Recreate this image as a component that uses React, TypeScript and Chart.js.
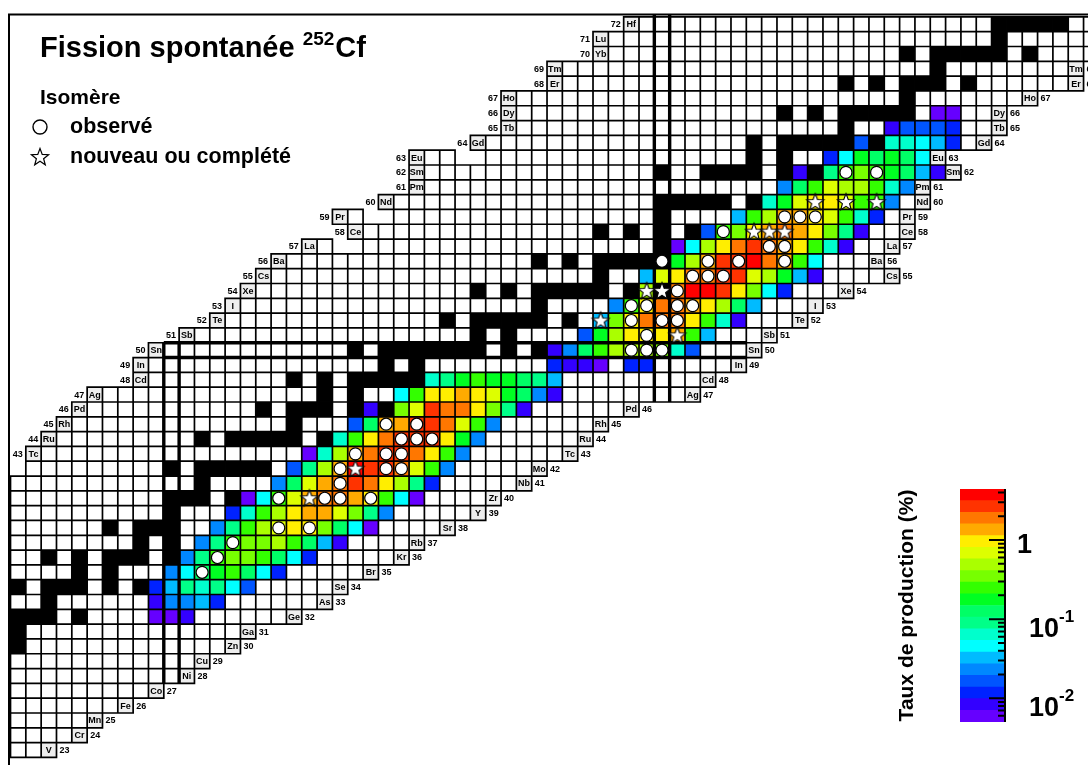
import React, { useEffect, useRef } from 'react';
import { Chart, registerables } from 'chart.js';

Chart.register(...registerables);

const FONT = '"Liberation Sans", Arial, Helvetica, sans-serif';

// ---------------- data ----------------
// visible window of the nuclide chart: neutron number N across, proton number Z up
const N_WINDOW = [38.815, 109.79];
const Z_WINDOW = [21.99, 73.64];

const Z_FIRST = 23;
const SYMBOLS = ['V', 'Cr', 'Mn', 'Fe', 'Co', 'Ni', 'Cu', 'Zn', 'Ga', 'Ge', 'As', 'Se', 'Br', 'Kr', 'Rb', 'Sr', 'Y', 'Zr', 'Nb', 'Mo',
  'Tc', 'Ru', 'Rh', 'Pd', 'Ag', 'Cd', 'In', 'Sn', 'Sb', 'Te', 'I', 'Xe', 'Cs', 'Ba', 'La', 'Ce', 'Pr', 'Nd', 'Pm', 'Sm',
  'Eu', 'Gd', 'Tb', 'Dy', 'Ho', 'Er', 'Tm', 'Yb', 'Lu', 'Hf'];
// lightest and heaviest N drawn in each row (Z = 23 ... 72)
const N_LIGHTEST = [40, 40, 40, 40, 40, 40, 40, 40, 40, 40, 40, 40, 40, 40, 40, 40, 40, 40, 40, 41,
  42, 43, 44, 45, 46, 49, 49, 50, 52, 54, 55, 56, 57, 58, 60, 63, 62, 65, 67, 67,
  67, 71, 73, 73, 73, 76, 76, 79, 79, 81];
const N_HEAVIEST = [41, 43, 44, 46, 48, 50, 51, 53, 54, 57, 59, 60, 62, 64, 65, 67, 69, 70, 72, 73,
  75, 76, 77, 79, 83, 84, 86, 87, 88, 90, 91, 93, 96, 95, 96, 97, 97, 98, 98, 100,
  99, 102, 103, 103, 105, 108, 108, 110, 110, 110];
const LEFT_LABEL_FROM_Z = 43;
const RIGHT_LABEL_TO_Z = 69;
// unknown nuclides inside a row [Z, N]
const GAPS: [number, number][] = [[57, 61], [57, 62], [59, 63], [59, 64], [63, 69], [63, 70]];

// stable nuclides [Z, N list]
const STABLE: [number, number[]][] = [
  [30, [40]], [31, [40]], [32, [40, 41, 42, 44]], [33, [42]], [34, [40, 42, 43, 44, 46, 48]], [35, [44, 46]],
  [36, [42, 44, 46, 47, 48, 50]], [37, [48, 50]], [38, [46, 48, 49, 50]], [39, [50]], [40, [50, 51, 52, 54, 56]],
  [41, [52]], [42, [50, 52, 53, 54, 55, 56, 58]], [44, [52, 54, 55, 56, 57, 58, 60]], [45, [58]],
  [46, [56, 58, 59, 60, 62, 64]], [47, [60, 62]], [48, [58, 60, 62, 63, 64, 65, 66, 68]], [49, [64, 66]],
  [50, [62, 64, 65, 66, 67, 68, 69, 70, 72, 74]], [51, [70, 72]], [52, [68, 70, 71, 72, 73, 74, 76, 78]], [53, [74]],
  [54, [70, 72, 74, 75, 76, 77, 78, 80, 82]], [55, [78]], [56, [74, 76, 78, 79, 80, 81, 82]], [57, [82]],
  [58, [78, 80, 82, 84]], [59, [82]], [60, [82, 83, 84, 85, 86, 88, 90]], [62, [82, 85, 86, 87, 88, 90, 92]],
  [63, [88, 90]], [64, [88, 90, 91, 92, 93, 94, 96]], [65, [94]], [66, [90, 92, 94, 95, 96, 97, 98]], [67, [98]],
  [68, [94, 96, 98, 99, 100, 102]], [69, [100]], [70, [98, 100, 101, 102, 103, 104, 106]], [71, [104]],
  [72, [104, 105, 106, 107, 108]],
];

// independent production yields (%) : [Z, first N, yields ...]
const YIELD_ROWS: [number, number, (number | null)[]][] = [
  [32, 49, [0.006, 0.006, 0.0083]],
  [33, 49, [0.0083, 0.023, 0.023, 0.032, 0.012]],
  [34, 49, [0.012, 0.032, 0.089, 0.063, 0.089, 0.045, 0.016]],
  [35, 50, [0.023, 0.045, 0.125, 0.175, 0.25, 0.125, 0.045, 0.012]],
  [36, 51, [0.023, 0.089, 0.25, 0.35, 0.35, 0.25, 0.125, 0.045, 0.012]],
  [37, 52, [0.023, 0.089, 0.25, 0.35, 0.35, 0.48, 0.25, 0.125, 0.032, 0.0083]],
  [38, 53, [0.023, 0.089, 0.25, 0.48, 0.68, 0.95, 0.95, 0.35, 0.125, 0.045, 0.006]],
  [39, 54, [0.012, 0.063, 0.25, 0.48, 0.95, 1.33, 1.33, 0.68, 0.35, 0.089, 0.023]],
  [40, 55, [0.006, 0.045, 0.25, 0.68, 1.33, 1.87, 1.87, 1.33, 0.95, 0.25, 0.045, 0.006]],
  [41, 57, [0.023, 0.125, 0.68, 1.33, 1.87, 2.6, 1.87, 0.95, 0.48, 0.089, 0.012]],
  [42, 58, [0.016, 0.089, 0.48, 1.33, 3.7, 2.6, 2.6, 1.87, 0.68, 0.25, 0.023]],
  [43, 59, [0.006, 0.063, 0.48, 1.33, 1.87, 2.6, 2.6, 1.87, 0.95, 0.25, 0.023]],
  [44, 61, [0.063, 0.25, 0.95, 1.87, 2.6, 2.6, 2.6, 0.95, 0.175, 0.023]],
  [45, 62, [0.016, 0.125, 1.33, 1.33, 2.6, 2.6, 1.87, 0.68, 0.25, 0.023]],
  [46, 63, [0.0083, null, 0.35, 0.68, 2.6, 1.87, 1.87, 0.95, 0.35, 0.089, 0.0083]],
  [47, 65, [0.045, 0.25, 0.95, 0.95, 1.33, 0.95, 0.68, 0.175, 0.125, 0.023, 0.0083]],
  [48, 67, [0.063, 0.089, 0.175, 0.25, 0.175, 0.175, 0.125, 0.089, 0.032]],
  [49, 75, [0.012, 0.0083, 0.0083, 0.006, null, 0.012, 0.012]],
  [50, 75, [0.0083, 0.023, 0.125, 0.25, 0.48, 0.48, 0.48, 0.35, 0.063, 0.016]],
  [51, 77, [0.016, 0.175, 0.48, 0.95, 0.95, 0.95, 1.33, 0.25, 0.032]],
  [52, 78, [0.032, 0.35, 0.95, 1.87, 1.87, 1.87, 0.95, 0.25, 0.063, 0.0083]],
  [53, 79, [0.023, 0.25, 0.95, 1.87, 1.87, 1.33, 0.95, 0.48, 0.125, 0.032]],
  [54, 81, [0.48, null, 1.87, 3.7, 3.7, 2.6, 0.95, 0.35, 0.045, 0.012]],
  [55, 81, [0.032, 0.68, 0.95, 1.87, 1.87, 2.6, 2.6, 0.68, 0.48, 0.175, 0.032, 0.0083]],
  [56, 83, [0.175, 0.48, 1.33, 2.6, 2.6, 3.7, 1.87, 1.33, 0.25, 0.045]],
  [57, 83, [0.006, 0.045, 0.48, 0.95, 1.87, 2.6, 1.87, 1.33, 0.95, 0.25, 0.063, 0.0083]],
  [58, 85, [0.016, 0.25, 0.35, 0.95, 1.33, 1.87, 1.33, 0.95, 0.35, 0.089, 0.0083]],
  [59, 87, [0.032, 0.25, 0.48, 1.33, 1.33, 0.95, 0.68, 0.25, 0.063, 0.012]],
  [60, 89, [0.063, 0.175, 0.68, 0.95, 0.95, 0.68, 0.25, 0.25, 0.023]],
  [61, 90, [0.023, 0.125, 0.25, 0.68, 0.48, 0.48, 0.25, 0.063, 0.023]],
  [62, 91, [0.0083, null, 0.089, 0.25, 0.35, 0.25, 0.175, 0.125, 0.032, 0.0083]],
  [63, 93, [0.012, 0.045, 0.175, 0.125, 0.175, 0.125, 0.045]],
  [64, 95, [0.016, null, 0.063, 0.063, 0.045, 0.032, 0.012]],
  [65, 97, [0.0083, 0.016, 0.016, 0.016, 0.012]],
  [66, 100, [0.006, 0.006]],
];

// isomers [Z, N]
const ISOMER_SEEN: [number, number][] = [
  [35, 52], [36, 53], [37, 54], [38, 57], [38, 59], [40, 57], [40, 60], [40, 61], [40, 63], [41, 61],
  [42, 61], [42, 64], [42, 65], [43, 62], [43, 64], [43, 65], [44, 65], [44, 66], [44, 67], [45, 64], [45, 66],
  [50, 80], [50, 81], [50, 82], [51, 81], [52, 80], [52, 82], [52, 83], [53, 80], [53, 81], [53, 83], [53, 84],
  [54, 83], [55, 84], [55, 85], [55, 86], [56, 82], [56, 85], [56, 87], [56, 90], [57, 89], [57, 90], [58, 86],
  [59, 90], [59, 91], [59, 92], [62, 94], [62, 96],
];
const ISOMER_NEW: [number, number][] = [
  [40, 59], [42, 62], [51, 83], [52, 78], [54, 81], [54, 82], [58, 88], [58, 89], [58, 90], [60, 92], [60, 94], [60, 96],
];

// magic numbers: [N, lowest Z, highest Z] and [Z, lowest N, highest N]
const MAGIC_COLUMNS: [number, number, number][] = [[50, 28, 50], [82, 47, 80]];
const MAGIC_ROWS: [number, number, number][] = [[50, 50, 87]];

// colour scale of the yields
const PALETTE = ['#6600ff', '#3300ff', '#0022ff', '#0055ff', '#0088ff', '#00bbff', '#00ffff', '#00ffcc', '#00ff88', '#00ff66',
  '#00ff22', '#33ff00', '#77ff00', '#aaff00', '#ddff00', '#ffee00', '#ffaa00', '#ff7700', '#ff3300', '#ff0000'];
const YIELD_SCALE = [0.005012, 4.4157];
const COLOR_TICK_LABELS: [number, string, string][] = [[1, '1', ''], [0.1, '10', '-1'], [0.01, '10', '-2']];

// ---------------- helpers ----------------
const LOG_LO = Math.log10(YIELD_SCALE[0]);
const LOG_HI = Math.log10(YIELD_SCALE[1]);
function yieldColor(v: number) {
  let k = Math.floor(((Math.log10(v) - LOG_LO) / (LOG_HI - LOG_LO)) * PALETTE.length);
  if (k < 0) k = 0;
  if (k > PALETTE.length - 1) k = PALETTE.length - 1;
  return PALETTE[k];
}
const key = (z: number, n: number) => z * 1000 + n;

function starPath(ctx: CanvasRenderingContext2D, cx: number, cy: number, R: number, r: number) {
  ctx.beginPath();
  for (let i = 0; i < 10; i++) {
    const a = -Math.PI / 2 + (i * Math.PI) / 5;
    const rad = i % 2 === 0 ? R : r;
    const px = cx + rad * Math.cos(a);
    const py = cy + rad * Math.sin(a);
    if (i === 0) ctx.moveTo(px, py); else ctx.lineTo(px, py);
  }
  ctx.closePath();
}

function makeStar() {
  const c = document.createElement('canvas');
  c.width = 22; c.height = 22;
  const g = c.getContext('2d')!;
  starPath(g, 11, 11.5, 9, 3.8);
  g.fillStyle = '#ffffff';
  g.fill();
  g.lineWidth = 1.1;
  g.strokeStyle = '#000000';
  g.stroke();
  return c;
}

const nuclideCells = {
  id: 'nuclideCells',
  beforeDatasetsDraw(chart: any) {
    const { ctx } = chart;
    const sx = chart.scales.x;
    const sy = chart.scales.y;
    const box = (n: number, z: number): [number, number, number, number] => {
      const x0 = sx.getPixelForValue(n - 0.5);
      const x1 = sx.getPixelForValue(n + 0.5);
      const y0 = sy.getPixelForValue(z + 0.5);
      const y1 = sy.getPixelForValue(z - 0.5);
      return [x0, y0, x1 - x0, y1 - y0];
    };
    const gaps = new Set(GAPS.map(([z, n]) => key(z, n)));
    const fills = new Map<number, string>();
    SYMBOLS.forEach((_, i) => {
      const z = Z_FIRST + i;
      for (let n = N_LIGHTEST[i]; n <= N_HEAVIEST[i]; n++) {
        if (!gaps.has(key(z, n))) fills.set(key(z, n), '#ffffff');
      }
    });
    STABLE.forEach(([z, ns]) => ns.forEach((n) => fills.set(key(z, n), '#000000')));
    YIELD_ROWS.forEach(([z, n0, vals]) => vals.forEach((v, j) => {
      if (v != null) fills.set(key(z, n0 + j), yieldColor(v));
    }));
    const labels: { z: number; n: number; sym: string; side: string }[] = [];
    SYMBOLS.forEach((sym, i) => {
      const z = Z_FIRST + i;
      if (z >= LEFT_LABEL_FROM_Z) labels.push({ z, n: N_LIGHTEST[i] - 1, sym, side: 'left' });
      if (z <= RIGHT_LABEL_TO_Z) labels.push({ z, n: N_HEAVIEST[i] + 1, sym, side: 'right' });
    });

    ctx.save();
    ctx.beginPath();
    ctx.rect(9, 14, 2000, 2000);
    ctx.clip();

    fills.forEach((color, k) => {
      const z = Math.floor(k / 1000);
      const n = k % 1000;
      ctx.fillStyle = color;
      ctx.fillRect(...box(n, z));
    });
    labels.forEach((l) => {
      ctx.fillStyle = '#eeeeee';
      ctx.fillRect(...box(l.n, l.z));
    });
    ctx.strokeStyle = '#000000';
    ctx.lineWidth = 1.7;
    ctx.beginPath();
    fills.forEach((_, k) => {
      const z = Math.floor(k / 1000);
      const n = k % 1000;
      ctx.rect(...box(n, z));
    });
    labels.forEach((l) => ctx.rect(...box(l.n, l.z)));
    ctx.stroke();

    // magic numbers
    ctx.lineWidth = 3.4;
    ctx.beginPath();
    MAGIC_COLUMNS.forEach(([n, zLo, zHi]) => {
      const yTop = zHi >= 72 ? 0 : sy.getPixelForValue(zHi + 0.5);
      const yBot = sy.getPixelForValue(zLo - 0.5);
      [n - 0.5, n + 0.5].forEach((e) => {
        const x = sx.getPixelForValue(e);
        ctx.moveTo(x, yBot);
        ctx.lineTo(x, yTop);
      });
    });
    MAGIC_ROWS.forEach(([z, nLo, nHi]) => {
      const x0 = sx.getPixelForValue(nLo - 0.5);
      const x1 = sx.getPixelForValue(nHi + 0.5);
      [z - 0.5, z + 0.5].forEach((e) => {
        const y = sy.getPixelForValue(e);
        ctx.moveTo(x0, y);
        ctx.lineTo(x1, y);
      });
    });
    ctx.stroke();

    // element labels
    ctx.fillStyle = '#000000';
    ctx.font = `bold 9px ${FONT}`;
    ctx.textBaseline = 'middle';
    labels.forEach((l) => {
      const [x, y, w, h] = box(l.n, l.z);
      ctx.textAlign = 'center';
      ctx.fillText(l.sym, x + w / 2, y + h / 2 + 0.5);
      if (l.side === 'left') {
        ctx.textAlign = 'right';
        ctx.fillText(String(l.z), x - 3, y + h / 2 + 0.5);
      } else {
        ctx.textAlign = 'left';
        ctx.fillText(String(l.z), x + w + 3, y + h / 2 + 0.5);
      }
    });
    ctx.restore();
  },
};

const frameAndText = {
  id: 'frameAndText',
  afterDraw(chart: any) {
    const { ctx } = chart;
    ctx.save();
    ctx.strokeStyle = '#000000';
    ctx.lineWidth = 2;
    ctx.strokeRect(9, 14.5, 1200, 1000);

    ctx.fillStyle = '#000000';
    ctx.textBaseline = 'alphabetic';
    ctx.textAlign = 'left';
    ctx.font = `bold 29px ${FONT}`;
    const t1 = 'Fission spontanée ';
    ctx.fillText(t1, 40, 57);
    let x = 40 + ctx.measureText(t1).width;
    ctx.font = `bold 19px ${FONT}`;
    ctx.fillText('252', x, 45);
    x += ctx.measureText('252').width + 1;
    ctx.font = `bold 29px ${FONT}`;
    ctx.fillText('Cf', x, 57);

    ctx.font = `bold 21px ${FONT}`;
    ctx.fillText('Isomère', 40, 104);
    ctx.font = `bold 21.5px ${FONT}`;
    ctx.fillText('observé', 70, 133);
    ctx.fillText('nouveau ou complété', 70, 163);

    ctx.lineWidth = 1.4;
    ctx.beginPath();
    ctx.arc(40, 127, 7, 0, Math.PI * 2);
    ctx.stroke();
    starPath(ctx, 40, 157.5, 9, 3.8);
    ctx.lineWidth = 1.2;
    ctx.stroke();
    ctx.restore();
  },
};

const colorAxis = {
  id: 'colorAxis',
  afterDraw(chart: any) {
    const { ctx, chartArea: a } = chart;
    const sy = chart.scales.y;
    ctx.save();
    ctx.strokeStyle = '#000000';
    ctx.lineWidth = 2;
    ctx.beginPath();
    ctx.moveTo(a.right, a.top);
    ctx.lineTo(a.right, a.bottom);
    for (let d = -3; d <= 1; d++) {
      for (let m = 1; m <= 9; m++) {
        const v = m * Math.pow(10, d);
        if (v < YIELD_SCALE[0] || v > YIELD_SCALE[1]) continue;
        const y = sy.getPixelForValue(v);
        ctx.moveTo(a.right, y);
        ctx.lineTo(a.right - (m === 1 ? 16 : 7), y);
      }
    }
    ctx.stroke();

    ctx.fillStyle = '#000000';
    ctx.textAlign = 'left';
    ctx.textBaseline = 'alphabetic';
    COLOR_TICK_LABELS.forEach(([v, base, exp]) => {
      const y = sy.getPixelForValue(v);
      ctx.font = `bold 27px ${FONT}`;
      if (!exp) {
        ctx.fillText(base, a.right + 12, y + 13);
      } else {
        const x0 = a.right + 24;
        ctx.fillText(base, x0, y + 18);
        const w = ctx.measureText(base).width;
        ctx.font = `bold 17px ${FONT}`;
        ctx.fillText(exp, x0 + w, y + 3);
      }
    });

    ctx.font = `bold 21px ${FONT}`;
    ctx.textAlign = 'center';
    ctx.textBaseline = 'middle';
    ctx.translate(a.left - 53, (a.top + a.bottom) / 2);
    ctx.rotate(-Math.PI / 2);
    ctx.fillText('Taux de production (%)', 0, 0);
    ctx.restore();
  },
};

export default function App() {
  const mainRef = useRef<HTMLCanvasElement>(null);
  const barRef = useRef<HTMLCanvasElement>(null);

  useEffect(() => {
    const star = makeStar();
    const main = new Chart(mainRef.current as HTMLCanvasElement, {
      type: 'scatter',
      data: {
        datasets: [
          {
            label: 'observé',
            data: ISOMER_SEEN.map(([z, n]) => ({ x: n, y: z })),
            pointStyle: 'circle',
            pointRadius: 6,
            backgroundColor: '#ffffff',
            borderColor: '#000000',
            borderWidth: 1.2,
          },
          {
            label: 'nouveau ou complété',
            data: ISOMER_NEW.map(([z, n]) => ({ x: n, y: z })),
            pointStyle: star as any,
            pointRadius: 9,
          },
        ],
      },
      options: {
        responsive: false,
        animation: false,
        devicePixelRatio: 1,
        events: [],
        layout: { padding: 0, autoPadding: false },
        plugins: { legend: { display: false }, tooltip: { enabled: false }, title: { display: false } },
        scales: {
          x: { type: 'linear', display: false, min: N_WINDOW[0], max: N_WINDOW[1] },
          y: { type: 'linear', display: false, min: Z_WINDOW[0], max: Z_WINDOW[1] },
        },
      } as any,
      plugins: [nuclideCells, frameAndText],
    });

    const bands = PALETTE.map((c, k) => {
      const lo = Math.pow(10, LOG_LO + ((LOG_HI - LOG_LO) * k) / PALETTE.length);
      const hi = Math.pow(10, LOG_LO + ((LOG_HI - LOG_LO) * (k + 1)) / PALETTE.length);
      return {
        label: `band${k}`,
        data: [[lo, hi]],
        backgroundColor: c,
        borderWidth: 0,
        barPercentage: 1,
        categoryPercentage: 1,
        grouped: false,
      };
    });
    const bar = new Chart(barRef.current as HTMLCanvasElement, {
      type: 'bar',
      data: { labels: [''], datasets: bands as any },
      options: {
        responsive: false,
        animation: false,
        devicePixelRatio: 1,
        events: [],
        layout: { padding: { left: 80, right: 83, top: 19, bottom: 28 }, autoPadding: false },
        plugins: { legend: { display: false }, tooltip: { enabled: false } },
        scales: {
          x: { display: false },
          y: { type: 'logarithmic', display: false, min: YIELD_SCALE[0], max: YIELD_SCALE[1] },
        },
      } as any,
      plugins: [colorAxis],
    });

    return () => {
      main.destroy();
      bar.destroy();
    };
  }, []);

  return (
    <div>
      <canvas ref={mainRef} width={1088} height={765}
        style={{ position: 'absolute', left: 0, top: 0, width: 1088, height: 765 }} />
      <canvas ref={barRef} width={208} height={280}
        style={{ position: 'absolute', left: 880, top: 470, width: 208, height: 280 }} />
    </div>
  );
}
